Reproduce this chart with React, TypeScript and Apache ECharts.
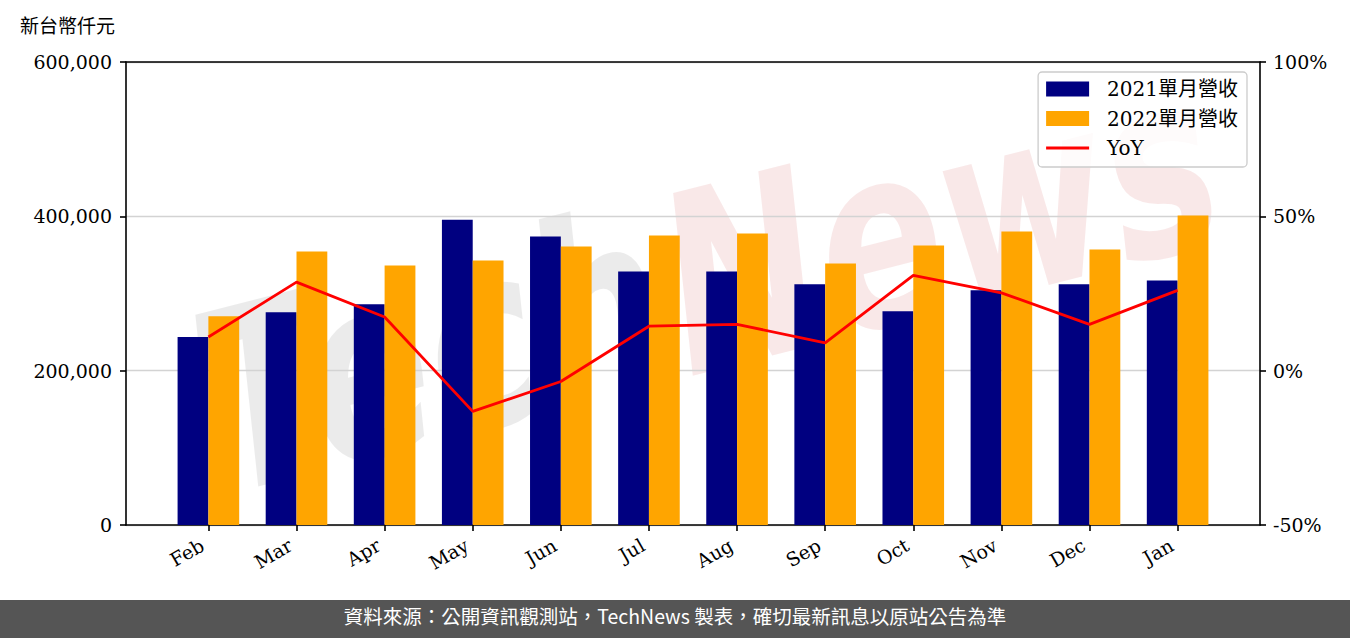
import React, { useEffect, useRef } from "react";
import * as echarts from "echarts";

const months = ["Feb", "Mar", "Apr", "May", "Jun", "Jul", "Aug", "Sep", "Oct", "Nov", "Dec", "Jan"];
const rev2021 = [243500, 275700, 286000, 395700, 373800, 328600, 328600, 311900, 277000, 304100, 311900, 317000];
const rev2022 = [270600, 354400, 336400, 342800, 360900, 375100, 377700, 339000, 362200, 380300, 357000, 401000];
const yoy = [10.9, 28.7, 17.4, -13.2, -3.5, 14.4, 15.0, 9.0, 30.9, 25.2, 15.0, 26.0];
const leftTicks = [0, 200000, 400000, 600000];
const rightTicks = [-50, 0, 50, 100];

const SERIF = "DejaVu Serif, Noto Sans CJK TC, serif";
const CJK = "Noto Sans CJK TC, sans-serif";

export default function App() {
  const ref = useRef<HTMLDivElement>(null);
  useEffect(() => {
    document.body.style.margin = "0";
    const chart = echarts.init(ref.current!, null, { renderer: "svg" });
    const idx = months.map((_, i) => i);
    const axisLine = { show: true, onZero: false, lineStyle: { color: "#000", width: 1.6 } };
    const option: any = {
      animation: false,
      backgroundColor: "#fff",
      grid: { left: 126, right: 90, top: 62, bottom: 113, containLabel: false },
      legend: {
        orient: "vertical",
        right: 103,
        top: 72,
        itemWidth: 43,
        itemHeight: 15,
        itemGap: 7.5,
        padding: [6, 9, 8, 8],
        borderColor: "#cccccc",
        borderWidth: 1.3,
        borderRadius: 4,
        backgroundColor: "rgba(255,255,255,0.8)",
        textStyle: { fontSize: 20, fontFamily: SERIF, color: "#000", lineHeight: 22, padding: [0, 0, 0, 13] },
        data: [
          { name: "2021單月營收", icon: "rect" },
          { name: "2022單月營收", icon: "rect" },
          { name: "YoY", icon: "path://M0,0 L44,0 L44,3 L0,3 Z", itemStyle: { color: "#FF0000" } },
        ],
      },
      xAxis: [
        {
          type: "value",
          position: "bottom",
          min: -0.935,
          max: 11.935,
          axisLine,
          splitLine: { show: false },
          axisTick: { show: true, customValues: idx, length: 6, lineStyle: { color: "#000", width: 1.6 } },
          axisLabel: {
            customValues: idx,
            formatter: (v: number) => months[Math.round(v)] ?? "",
            rotate: 30,
            margin: 15,
            padding: [0, 7, 0, 0],
            fontSize: 19,
            fontFamily: SERIF,
            color: "#000",
          },
        },
        {
          type: "value",
          position: "top",
          min: -0.935,
          max: 11.935,
          axisLine,
          splitLine: { show: false },
          axisTick: { show: false },
          axisLabel: { show: false },
        },
      ],
      yAxis: [
        {
          type: "value",
          position: "left",
          min: leftTicks[0],
          max: leftTicks[leftTicks.length - 1],
          interval: leftTicks[1] - leftTicks[0],
          axisLine,
          axisTick: { show: true, length: 6, lineStyle: { color: "#000", width: 1.6 } },
          axisLabel: {
            formatter: (v: number) => v.toLocaleString("en-US"),
            fontSize: 19,
            fontFamily: SERIF,
            color: "#000",
            margin: 14,
          },
          splitLine: { show: true, lineStyle: { color: "#d3d3d3", width: 1.4 } },
        },
        {
          type: "value",
          position: "right",
          min: rightTicks[0],
          max: rightTicks[rightTicks.length - 1],
          interval: rightTicks[1] - rightTicks[0],
          axisLine,
          axisTick: { show: true, length: 6, lineStyle: { color: "#000", width: 1.6 } },
          axisLabel: {
            formatter: (v: number) => v + "%",
            fontSize: 19,
            fontFamily: SERIF,
            color: "#000",
            margin: 13,
          },
          splitLine: { show: false },
        },
      ],
      series: [
        {
          name: "2021單月營收",
          type: "bar",
          xAxisIndex: 0,
          yAxisIndex: 0,
          barWidth: 30.8,
          barGap: "0%",
          itemStyle: { color: "#000080" },
          data: rev2021.map((v, i) => [i, v]),
        },
        {
          name: "2022單月營收",
          type: "bar",
          xAxisIndex: 0,
          yAxisIndex: 0,
          barWidth: 30.8,
          barGap: "0%",
          itemStyle: { color: "#FFA500" },
          data: rev2022.map((v, i) => [i, v]),
        },
        {
          name: "YoY",
          type: "line",
          xAxisIndex: 0,
          yAxisIndex: 1,
          symbol: "none",
          showSymbol: false,
          lineStyle: { color: "#FF0000", width: 2.8 },
          itemStyle: { color: "#FF0000" },
          z: 5,
          data: yoy.map((v, i) => [i, v]),
        },
      ],
      graphic: [
        {
          type: "text",
          left: 20,
          top: 15,
          style: { text: "新台幣仟元", fontSize: 19, fontFamily: CJK, fill: "#000" },
        },
        {
          type: "group",
          x: 660,
          y: 295,
          rotation: 0.25,
          z: 100,
          silent: true,
          children: [
            {
              type: "text",
              x: 0,
              y: 0,
              scaleY: 1.35,
              style: {
                text: "Tech",
                align: "right",
                verticalAlign: "middle",
                font: "italic bold 185px 'DejaVu Sans'",
                fill: "rgba(0,0,0,0.08)",
              },
            },
            {
              type: "text",
              x: 8,
              y: 0,
              scaleY: 1.35,
              style: {
                text: "News",
                align: "left",
                verticalAlign: "middle",
                font: "italic bold 185px 'DejaVu Sans'",
                fill: "rgba(186,0,0,0.09)",
              },
            },
          ],
        },
        {
          type: "rect",
          left: 0,
          top: 600,
          shape: { width: 1350, height: 38 },
          style: { fill: "#555555" },
          z: 110,
        },
        {
          type: "text",
          left: "center",
          top: 606,
          z: 111,
          style: {
            text: "資料來源：公開資訊觀測站，TechNews 製表，確切最新訊息以原站公告為準",
            fontSize: 19.5,
            fontFamily: CJK,
            fill: "#fff",
          },
        },
      ],
    };
    chart.setOption(option);
    return () => chart.dispose();
  }, []);
  return <div ref={ref} style={{ position: "fixed", left: 0, top: 0, width: 1350, height: 638 }} />;
}
